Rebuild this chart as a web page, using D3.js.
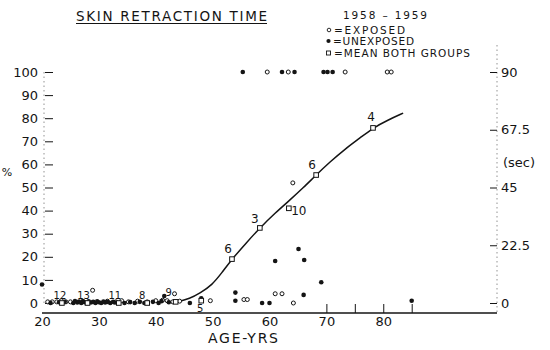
<!DOCTYPE html>
<html>
<head>
<meta charset="utf-8">
<script src="https://cdn.jsdelivr.net/npm/d3@7"></script>
<style>
  html, body { margin: 0; padding: 0; background: #fff; }
  svg { display: block; font-family: "DejaVu Sans", "Liberation Sans", sans-serif; }
</style>
</head>
<body>
<svg id="chart" width="550" height="350"></svg>
<script>
// Skin retraction time by age, 1958–1959: exposed / unexposed subjects and group means

// axis ticks
const xTickLabels = [20, 30, 40, 50, 60, 70, 80];
const xMinorTicks = [70, 75, 80, 85];
const pctTicks = [0, 10, 20, 30, 40, 50, 60, 70, 80, 90, 100];
const secTicks = [0, 22.5, 45, 67.5, 90];
const secTickLabels = ["0", "22.5", "45", "67.5", "90"];

// mean of both groups per age class, with number of subjects
const meanAge   = [23.5, 28, 33.5, 38.5, 43.5, 48, 53.4, 58.3, 63.4, 68.2, 78.2];
const meanPct   = [0, 0, 0, 0, 0.5, 1, 19, 32.5, 41, 55.4, 75.8];
const meanCount = [12, 13, 11, 8, 9, 5, 6, 3, 10, 6, 4];

// exposed subjects (open circles)
const exposedAge = [21, 21.8, 22.6, 23.4, 24.2, 25, 28.9, 31.5, 33, 34, 35.2, 36.8, 38.5, 40, 41.2, 42, 43, 43.3, 44.2,
                    49.6, 55.5, 56.1, 61, 62.2, 64.2, 64.1,
                    59.6, 63.3, 73.3, 80.7, 81.4];
const exposedPct = [0.5, 0.5, 0.5, 1, 0.5, 0.5, 5.5, 0.8, 0.5, 1, 0.5, 0.8, 0.5, 1, 1.2, 1, 0.5, 4, 0.8,
                    1, 1.5, 1.5, 4, 4, 0, 52,
                    100, 100, 100, 100, 100];

// unexposed subjects (filled dots)
const unexposedAge = [20, 21.5, 23, 24, 25.5, 25.8, 26.2, 26.5, 26.9, 27.2, 27.5, 27.9, 28.2, 28.6, 29, 29.4,
                      29.7, 30, 30.4, 30.8, 31.1, 31.5, 32, 32.5, 32.8, 34.5, 35.5, 36.3, 37.2, 38, 39.5,
                      40.5, 41, 41.5, 42.3, 46, 48,
                      54, 54, 58.7, 60, 61, 65.1, 66.1, 66, 69.1, 85,
                      55.3, 62.2, 64.4, 69.5, 70.2, 71.1];
const unexposedPct = [8, 0, 0.3, 0.5, 0, 0.8, 0.2, 0.6, 0, 0.8, 0.3, 0, 0.7, 0.2, 0.5, 0,
                      0.7, 0.3, 0, 0.6, 0.2, 0.5, 0, 0.5, 0.2, 0, 0.4, 0, 0.5, 0, 0.5,
                      0, 0.8, 3, 0.3, 0, 2,
                      1, 4.5, 0, 0, 18.2, 23.4, 18.6, 3.5, 9, 1,
                      100, 100, 100, 100, 100, 100];

// fitted curve through the means
const curveAge = [43.7, 46, 47.8, 49.9, 51.6, 53.4, 55.9, 58.3, 61, 63.6, 65.9, 68.2, 70.6, 73.3, 75.9, 78.2, 80.8, 83.5];
const curvePct = [0.4, 1.9, 4.3, 7.8, 13, 19, 26, 32.5, 39, 44.6, 49.8, 55.4, 61, 66.7, 71.4, 75.8, 79.2, 82.2];

const ink = "#141414";
const svg = d3.select("#chart");

const x = d3.scaleLinear().domain([20, 100]).range([42, 497]);
const y = d3.scaleLinear().domain([0, 100]).range([303, 72]);
const ySec = d3.scaleLinear().domain([0, 90]).range([303, 72]);

// title
svg.append("text")
  .attr("x", 76).attr("y", 21)
  .attr("textLength", 191).attr("lengthAdjust", "spacing")
  .style("font-size", "13.5px").attr("fill", ink)
  .text("SKIN RETRACTION TIME");
svg.append("line")
  .attr("x1", 76).attr("x2", 267).attr("y1", 23.5).attr("y2", 23.5)
  .attr("stroke", ink).attr("stroke-width", 1.2);

// legend
const legend = svg.append("g").attr("fill", ink).style("font-size", "10.5px");
legend.append("text").attr("x", 343).attr("y", 18.5)
  .attr("textLength", 84).attr("lengthAdjust", "spacing").text("1958 – 1959");
legend.append("circle").attr("cx", 329).attr("cy", 30).attr("r", 1.8)
  .attr("fill", "#fff").attr("stroke", ink).attr("stroke-width", 0.9);
legend.append("text").attr("x", 334).attr("y", 33.5)
  .attr("textLength", 71).attr("lengthAdjust", "spacing").text("=EXPOSED");
legend.append("circle").attr("cx", 328.5).attr("cy", 41).attr("r", 2.1);
legend.append("text").attr("x", 333).attr("y", 44.5)
  .attr("textLength", 81).attr("lengthAdjust", "spacing").text("=UNEXPOSED");
legend.append("rect").attr("x", 326.5).attr("y", 51).attr("width", 4).attr("height", 4)
  .attr("fill", "#fff").attr("stroke", ink).attr("stroke-width", 0.9);
legend.append("text").attr("x", 334).attr("y", 57)
  .attr("textLength", 136).attr("lengthAdjust", "spacing").text("=MEAN BOTH GROUPS");

// faint vertical axis rules
svg.append("line").attr("x1", 44).attr("x2", 44).attr("y1", 72).attr("y2", 303)
  .attr("stroke", "#777").attr("stroke-width", 0.8).attr("stroke-dasharray", "1.5,3");
svg.append("line").attr("x1", 497).attr("x2", 497).attr("y1", 45).attr("y2", 313)
  .attr("stroke", "#777").attr("stroke-width", 0.8).attr("stroke-dasharray", "1.5,3");

// left axis (%)
const gLeft = svg.append("g").attr("transform", "translate(53,0)")
  .call(d3.axisLeft(y).tickValues(pctTicks).tickSize(8).tickPadding(7));
gLeft.select(".domain").remove();
gLeft.selectAll("line").attr("stroke", ink);
gLeft.selectAll("text").attr("fill", ink).style("font-size", "13px")
  .style("font-family", "\"DejaVu Sans\", sans-serif");

// right axis (sec)
const gRight = svg.append("g").attr("transform", "translate(490,0)")
  .call(d3.axisRight(ySec).tickValues(secTicks)
    .tickFormat((d, i) => secTickLabels[i]).tickSize(7).tickPadding(4));
gRight.select(".domain").remove();
gRight.selectAll("line").attr("stroke", ink);
gRight.selectAll("text").attr("fill", ink).style("font-size", "13px")
  .style("font-family", "\"DejaVu Sans\", sans-serif");

// bottom axis: labels, minor ticks and base line
const gBottom = svg.append("g").attr("transform", "translate(0,313)")
  .call(d3.axisBottom(x).tickValues(xTickLabels).tickSize(0).tickPadding(4));
gBottom.select(".domain").remove();
gBottom.selectAll("text").attr("fill", ink).style("font-size", "13px")
  .style("font-family", "\"DejaVu Sans\", sans-serif");

const gMinor = svg.append("g").attr("transform", "translate(0,313)")
  .call(d3.axisBottom(x).tickValues(xMinorTicks).tickSize(-9).tickFormat(""));
gMinor.select(".domain").remove();
gMinor.selectAll("line").attr("stroke", ink).attr("stroke-width", 1);

svg.append("line").attr("x1", x(20)).attr("x2", x(100)).attr("y1", 313).attr("y2", 313)
  .attr("stroke", ink).attr("stroke-width", 1.5);

// axis titles
svg.append("text").attr("x", 208).attr("y", 343)
  .attr("textLength", 70).attr("lengthAdjust", "spacing")
  .style("font-size", "14px").attr("fill", ink).text("AGE-YRS");
svg.append("text").attr("x", 7).attr("y", 176)
  .attr("text-anchor", "middle")
  .style("font-size", "11px").attr("fill", ink).text("%");
svg.append("text").attr("x", 503).attr("y", 167)
  .style("font-size", "13px").attr("fill", ink).text("(sec)");

// fitted curve
const curvePts = curveAge.map((a, i) => [a, curvePct[i]]);
svg.append("path")
  .datum(curvePts)
  .attr("d", d3.line().x(d => x(d[0])).y(d => y(d[1])).curve(d3.curveBasis))
  .attr("fill", "none").attr("stroke", ink).attr("stroke-width", 1.5);

// exposed subjects
svg.append("g").selectAll("circle")
  .data(exposedAge.map((a, i) => [a, exposedPct[i]]))
  .join("circle")
  .attr("cx", d => x(d[0])).attr("cy", d => y(d[1])).attr("r", 2)
  .attr("fill", "#fff").attr("stroke", ink).attr("stroke-width", 1);

// unexposed subjects
svg.append("g").selectAll("circle")
  .data(unexposedAge.map((a, i) => [a, unexposedPct[i]]))
  .join("circle")
  .attr("cx", d => x(d[0])).attr("cy", d => y(d[1])).attr("r", 2.3)
  .attr("fill", ink);

// group means with subject counts
const means = meanAge.map((a, i) => ({ age: a, pct: meanPct[i], n: meanCount[i] }));
svg.append("g").selectAll("rect")
  .data(means)
  .join("rect")
  .attr("x", d => x(d.age) - 2.3).attr("y", d => y(d.pct) - 2.3)
  .attr("width", 4.6).attr("height", 4.6)
  .attr("fill", "#fff").attr("stroke", ink).attr("stroke-width", 1);

// placement of each count label relative to its mean marker
const countLabelOffset = [[-2, -8], [-4, -8], [-4, -8], [-5, -8], [-7, -9], [-1, 8],
                          [-4, -10], [-5, -9], [10, 3], [-4, -10], [-2, -11]];
svg.append("g").selectAll("text")
  .data(means)
  .join("text")
  .attr("x", (d, i) => x(d.age) + countLabelOffset[i][0])
  .attr("y", (d, i) => y(d.pct) + countLabelOffset[i][1])
  .attr("text-anchor", "middle").attr("dominant-baseline", "central")
  .style("font-size", (d, i) => (i < 6 ? "10px" : "12px"))
  .attr("fill", ink)
  .text(d => d.n);
</script>
</body>
</html>
